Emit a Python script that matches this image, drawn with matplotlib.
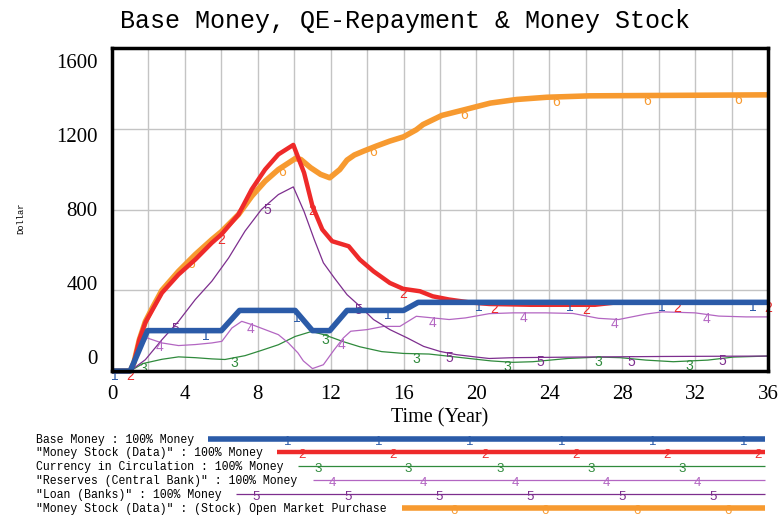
import numpy as np
import matplotlib
matplotlib.use('Agg')
import matplotlib.pyplot as plt
from matplotlib.lines import Line2D

W, H = 781, 518

# ---- data (time in years, value in dollars) ----
t_base = [0, 1.0, 1.95, 6.0, 7.0, 10.05, 11.0, 11.95, 12.9, 16.0, 16.8, 36]
v_base = [0, 0, 200, 200, 300, 300, 200, 200, 300, 300, 340, 340]

t_stock = [0, 1.0, 1.2, 1.5, 1.83, 2.2, 2.74, 3.65, 4.57, 5.48, 6.0, 6.94, 7.67, 8.4,
           9.13, 9.95, 10.54, 11.0, 11.54, 12.08, 12.99, 13.6, 14.35, 15.25, 15.98,
           16.9, 17.6, 18.5, 19.6, 20.7, 23.0, 26.5, 27.5, 36]
v_stock = [0, 0, 40, 155, 240, 300, 387, 478, 552, 635, 676, 775, 900, 998,
           1073, 1120, 982, 817, 701, 643, 618, 552, 494, 436, 407,
           395, 370, 354, 340, 332, 328, 328, 338, 338]

t_curr = [0, 1.0, 1.7, 2.74, 3.65, 4.57, 5.48, 6.2, 7.3, 8.2, 9.13, 10.05, 10.96,
          11.7, 12.67, 13.6, 14.8, 16.0, 17.4, 18.4, 19.6, 20.8, 22.0, 23.1, 25.0,
          26.7, 27.9, 29.3, 30.8, 32.7, 34.1, 36]
v_curr = [0, 0, 37, 58, 70, 66, 60, 57, 76, 102, 130, 171, 196,
          178, 146, 120, 96, 87, 84, 74, 62, 50, 43, 46, 62,
          69, 66, 54, 46, 54, 69, 74]

t_res = [0, 1.0, 1.5, 1.92, 2.74, 3.65, 4.57, 5.48, 6.03, 6.58, 7.12, 7.67, 8.4,
         9.13, 9.68, 10.2, 10.5, 11.0, 11.6, 12.2, 12.7, 13.1, 14.0, 14.9, 15.8,
         16.7, 17.6, 18.5, 19.4, 20.7, 22.0, 23.8, 25.3, 26.7, 27.8, 29.3, 30.2,
         32.0, 33.3, 34.8, 36]
v_res = [0, 0, 105, 164, 139, 126, 131, 139, 147, 213, 246, 230, 205,
         180, 139, 90, 50, 12, 31, 106, 164, 197, 205, 221, 221,
         271, 263, 255, 263, 284, 288, 288, 285, 261, 255, 282, 293,
         288, 272, 268, 268]

t_loan = [0, 1.0, 1.83, 2.74, 3.65, 4.57, 5.48, 6.4, 7.3, 8.2, 9.13, 9.95, 10.54,
          11.1, 11.6, 12.2, 12.9, 13.6, 14.35, 15.25, 16.2, 17.1, 18.0, 18.9, 20.0,
          20.7, 22.0, 25.5, 30.3, 36]
v_loan = [0, 0, 56, 155, 246, 354, 445, 560, 693, 800, 874, 912, 790,
          651, 536, 461, 378, 321, 255, 205, 164, 122, 97, 81, 69,
          62, 66, 69, 72, 74]

t_omp = [0, 1.0, 1.2, 1.5, 1.83, 2.2, 2.74, 3.65, 4.57, 5.48, 6.0, 6.94, 7.67, 8.4,
         9.13, 10.05, 10.36, 10.9, 11.45, 11.95, 12.5, 12.9, 13.3, 13.8, 14.5,
         15.25, 16.0, 16.7, 17.07, 18.1, 19.33, 20.76, 22.2, 23.86, 26.2, 36]
v_omp = [0, 0, 40, 155, 245, 310, 400, 494, 577, 651, 690, 775, 866, 940,
         998, 1052, 1048, 1007, 974, 957, 998, 1045, 1070, 1089, 1114,
         1139, 1160, 1195, 1221, 1266, 1294, 1327, 1345, 1356, 1363, 1368]

x_ticks = [0, 4, 8, 12, 16, 20, 24, 28, 32, 36]
y_ticks = [0, 400, 800, 1200, 1600]

legend_labels = [
    'Base Money : 100% Money',
    '"Money Stock (Data)" : 100% Money',
    'Currency in Circulation : 100% Money',
    '"Reserves (Central Bank)" : 100% Money',
    '"Loan (Banks)" : 100% Money',
    '"Money Stock (Data)" : (Stock) Open Market Purchase',
]

series = [(t_base, v_base), (t_stock, v_stock), (t_curr, v_curr),
          (t_res, v_res), (t_loan, v_loan), (t_omp, v_omp)]
colors = ['#2b5ba8', '#ee2a2a', '#2f8a3c', '#b366c2', '#7d2e8e', '#f79a30']
widths = [4.0, 3.2, 0.9, 0.9, 0.9, 4.0]
zorders = [6, 5, 3, 3, 3, 2]
mark_start = [0.15, 1.0, 1.7, 2.6, 3.5, 4.35]

mono = 'Liberation Mono'
serif = 'Liberation Serif'
sans = 'Liberation Sans'

fig = plt.figure(figsize=(W / 100, H / 100), dpi=100)
ax = fig.add_axes([112 / W, 1 - 371 / H, (768 - 112) / W, (371 - 48) / H])


def fx(px):
    return px / W


def fy(py):
    return 1 - py / H


for i, ((t, v), c, lw, z, m0) in enumerate(zip(series, colors, widths, zorders, mark_start)):
    ax.plot(t, v, color=c, lw=lw, zorder=z, clip_on=False,
            solid_joinstyle='round', solid_capstyle='butt')
    # numbered markers along each curve, every 5 years
    for tm in np.arange(m0, 36.01, 5):
        vm = np.interp(tm, t, v)
        ax.annotate(str(i + 1), (tm, vm), xytext=(0, -5), textcoords='offset pixels',
                    ha='center', va='center', color=c, fontsize=10,
                    family=sans, zorder=z + 0.5, annotation_clip=False)

ax.set_xlim(0, 36)
ax.set_ylim(0, 1600)
ax.set_xticks(np.arange(0, 37, 2), minor=True)
ax.set_xticks(x_ticks)
ax.set_xticklabels([str(x) for x in x_ticks], family=serif, fontsize=15)
ax.set_yticks(y_ticks)
ax.set_yticklabels([])
ax.grid(which='both', axis='x', color='#c4c4c4', lw=1.0, zorder=0)
ax.grid(which='major', axis='y', color='#c4c4c4', lw=1.0, zorder=0)
ax.tick_params(which='both', length=0)
ax.tick_params(axis='x', pad=10)
for s in ax.spines.values():
    s.set_linewidth(2.5)
    s.set_color('black')
    s.set_zorder(10)

# y tick labels sit a little inside the gridlines, as in the original
for yv in y_ticks:
    ax.text(-0.022, 790 + (yv - 800) * 0.917, str(yv), transform=ax.get_yaxis_transform(),
            ha='right', va='center', family=serif, fontsize=15)

fig.text(fx(405), fy(21), 'Base Money, QE-Repayment & Money Stock',
         ha='center', va='center', family=mono, fontsize=18)
fig.text(fx(21), fy(218), 'Dollar', rotation=90, ha='center', va='center',
         family=mono, fontsize=6.3)
fig.text(fx(440), fy(418), 'Time (Year)', ha='center', va='center',
         family=serif, fontsize=14.5)

# legend rows below the chart
row_y = [439, 452, 466, 480, 494, 508]
line_x0 = [208, 277, 298, 313, 236, 402]
mark_x = [
    [288, 379, 470, 562, 653, 744],
    [302, 393, 485, 576, 667, 758],
    [318, 408, 500, 591, 682],
    [332, 423, 515, 606, 697],
    [256, 348, 439, 530, 622, 713],
    [454, 545, 637, 728],
]
for i, lab in enumerate(legend_labels):
    fig.text(fx(36), fy(row_y[i] + 1), lab, ha='left', va='center',
             family=mono, fontsize=8.3)
    fig.add_artist(Line2D([fx(line_x0[i]), fx(765)], [fy(row_y[i])] * 2,
                          color=colors[i], lw=widths[i], solid_capstyle='butt'))
    for mx in mark_x[i]:
        fig.text(fx(mx), fy(row_y[i] + 3), str(i + 1), ha='center', va='center',
                 color=colors[i], fontsize=9.5, family=sans)

fig.savefig('out.png', dpi=100)
